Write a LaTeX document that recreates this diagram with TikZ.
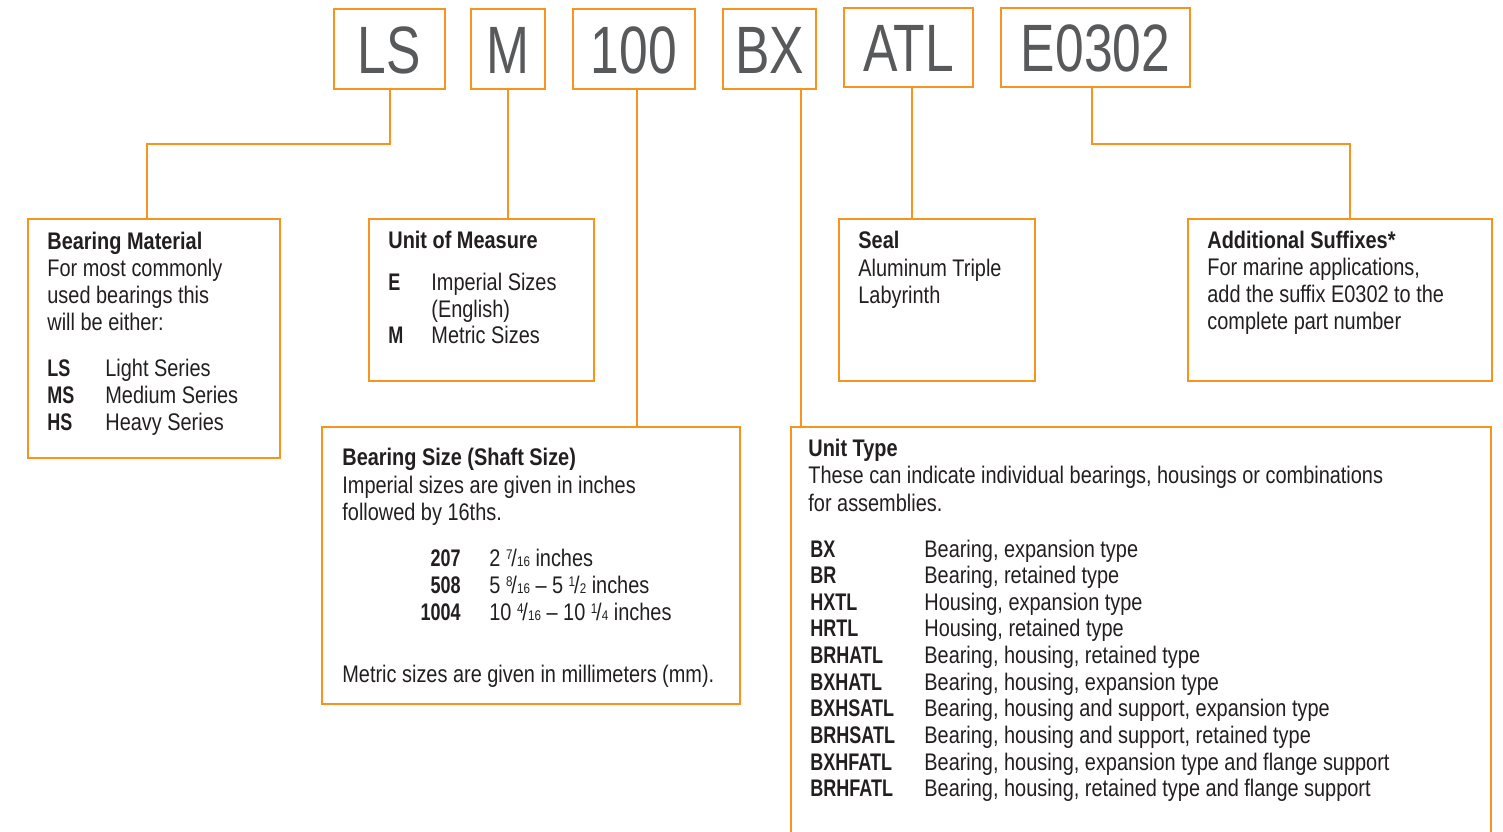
\documentclass[tikz,border=0pt]{standalone}
\usepackage{fontspec}
\setmainfont{Liberation Sans}[FakeStretch=0.83]
\newfontfamily\codefont{Liberation Sans}[FakeStretch=0.77]
\newfontfamily\keyfont{Liberation Sans}[FakeStretch=0.75]
\usepackage{tikz}

\definecolor{partorange}{RGB}{247,148,30}
\definecolor{bodytext}{RGB}{35,31,32}
\definecolor{codegrey}{RGB}{88,89,91}

\newcommand{\partfrac}[2]{\raisebox{0.55ex}{\scriptsize #1}\kern-0.05em/\kern0.01em{\scriptsize #2}}

\tikzset{
  partbox/.style={draw=partorange, line width=1pt, inner sep=0pt, anchor=north west},
  box/.style 2 args={partbox, minimum width=#1*0.5pt, minimum height=#2*0.5pt},
  codebox/.style 2 args={box={#1}{#2}, text=codegrey,
    font=\codefont\fontsize{33.5}{34}\selectfont, text height=24pt, text depth=0pt},
  link/.style={draw=partorange, line width=1pt},
  txt/.style={anchor=base west, inner sep=0pt, text=bodytext,
    font=\fontsize{12}{13.5}\selectfont},
  head/.style={txt, font=\fontsize{12}{13.5}\selectfont\bfseries},
  code/.style={txt, font=\keyfont\fontsize{12}{13.5}\selectfont\bfseries},
}

\begin{document}
\begin{tikzpicture}[x=0.5pt, y=-0.5pt]
  \useasboundingbox (0,0) rectangle (1503,831);
  \clip (0,0) rectangle (1503,831);

  % part number code
  \node[codebox={111}{80}] (ls) at (333,8) {LS};
  \node[codebox={74}{80}] (m) at (470,8) {M};
  \node[codebox={122}{80}] (size) at (572,8) {100};
  \node[codebox={93}{80}] (bx) at (722,8) {BX};
  \node[codebox={129}{79}] (atl) at (843,7) {ATL};
  \node[codebox={189}{79}] (e0302) at (1000,7) {E0302};

  % description boxes
  \node[box={252}{239}] (bmat) at (27,218) {};
  \node[box={225}{162}] (uom) at (368,218) {};
  \node[box={418}{277}] (bsize) at (321,426) {};
  \node[box={196}{162}] (seal) at (838,218) {};
  \node[box={304}{162}] (addsfx) at (1187,218) {};
  \node[box={700}{450}] (utype) at (790,426) {};

  % connectors
  \coordinate (jointy) at (0,144);
  \draw[link] (ls.south) -- (ls.south |- jointy) -| ([xshift=-3.5pt]bmat.north);
  \draw[link] (m.south) -- (m.south |- uom.north);
  \draw[link] ([xshift=1.5pt]size.south) -- ([xshift=1.5pt]size.south |- bsize.north);
  \draw[link] ([xshift=15.5pt]bx.south) -- ([xshift=15.5pt]bx.south |- utype.north);
  \draw[link] ([xshift=1.5pt]atl.south) -- ([xshift=1.5pt]atl.south |- seal.north);
  \draw[link] ([xshift=-2pt]e0302.south) -- ([xshift=-2pt]e0302.south |- jointy)
    -| ([xshift=5pt]addsfx.north);

  % Bearing Material
  \node[head] (bmat-h) at (47,249) {Bearing Material};
  \foreach \txt [count=\i] in {For most commonly, used bearings this, will be either:}
    \node[txt] (bmat-l\i) at (47,249+27*\i) {\txt};
  \foreach \cd/\txt [count=\i] in {LS/Light Series, MS/Medium Series, HS/Heavy Series} {
    \node[code] (bmat-c\i) at (47,349+27*\i) {\cd};
    \node[txt] (bmat-d\i) at (105,349+27*\i) {\txt};
  }

  % Unit of Measure
  \node[head] (uom-h) at (388,248) {Unit of Measure};
  \node[code] (uom-c1) at (388,290) {E};
  \node[txt] (uom-d1) at (431,290) {Imperial Sizes};
  \node[txt] (uom-d2) at (431,317) {(English)};
  \node[code] (uom-c2) at (388,343) {M};
  \node[txt] (uom-d3) at (431,343) {Metric Sizes};

  % Bearing Size
  \node[head] (bsize-h) at (342,465) {Bearing Size (Shaft Size)};
  \node[txt] (bsize-l1) at (342,493) {Imperial sizes are given in inches};
  \node[txt] (bsize-l2) at (342,520) {followed by 16ths.};
  \foreach \cd/\txt [count=\i] in {207/{2 \partfrac{7}{16} inches},
      508/{5 \partfrac{8}{16} -- 5 \partfrac{1}{2} inches},
      1004/{10 \partfrac{4}{16} -- 10 \partfrac{1}{4} inches}} {
    \node[code, anchor=base east] (bsize-c\i) at (461,539+27*\i) {\cd};
    \node[txt] (bsize-d\i) at (489,539+27*\i) {\txt};
  }
  \node[txt] (bsize-l3) at (342,682) {Metric sizes are given in millimeters (mm).};

  % Seal
  \node[head] (seal-h) at (858,248) {Seal};
  \node[txt] (seal-l1) at (858,276) {Aluminum Triple};
  \node[txt] (seal-l2) at (858,303) {Labyrinth};

  % Additional Suffixes
  \node[head] (addsfx-h) at (1207,248) {Additional Suffixes*};
  \foreach \txt [count=\i] in {{For marine applications,}, add the suffix E0302 to the,
      complete part number}
    \node[txt] (addsfx-l\i) at (1207,248+27*\i) {\txt};

  % Unit Type
  \node[head] (utype-h) at (808,456) {Unit Type};
  \node[txt] (utype-l1) at (808,483) {These can indicate individual bearings, housings or combinations};
  \node[txt] (utype-l2) at (808,511) {for assemblies.};
  \foreach \cd/\txt [count=\i] in {BX/{Bearing, expansion type},
      BR/{Bearing, retained type},
      HXTL/{Housing, expansion type},
      HRTL/{Housing, retained type},
      BRHATL/{Bearing, housing, retained type},
      BXHATL/{Bearing, housing, expansion type},
      BXHSATL/{Bearing, housing and support, expansion type},
      BRHSATL/{Bearing, housing and support, retained type},
      BXHFATL/{Bearing, housing, expansion type and flange support},
      BRHFATL/{Bearing, housing, retained type and flange support}} {
    \node[code] (utype-c\i) at (810,530.35+26.65*\i) {\cd};
    \node[txt] (utype-d\i) at (924,530.35+26.65*\i) {\txt};
  }
\end{tikzpicture}
\end{document}
